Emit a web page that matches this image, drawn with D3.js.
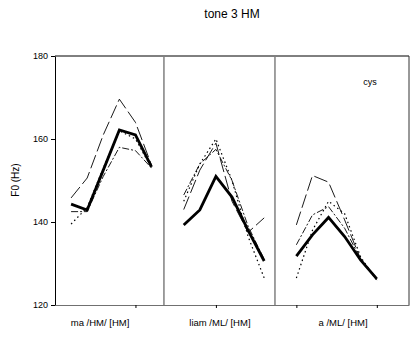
<!DOCTYPE html>
<html>
    <head>
        <meta charset="utf-8">
        <style>
            body { margin: 0; background: #fff; }
            text { font-family: "Liberation Sans", Arial, sans-serif; fill: #000; }
        </style>
    </head>
    <body>
        <svg width="414" height="338"></svg>
        <script src="https://d3js.org/d3.v7.min.js"></script>
        <script>
            // panel labels and the x slots each panel's six samples sit on
            let panels = ["ma /HM/ [HM]", "liam /ML/ [HM]", "a /ML/ [HM]"];
            let slots = [[1, 2, 3, 4, 5, 6], [8, 9, 10, 11, 12, 13], [15, 16, 17, 18, 19, 20]];
            let dividers = [6.77, 13.67];
            let yTicks = [120, 140, 160, 180];
            let xTicks = [5, 10, 15, 20];

            // F0 values (Hz), one row per panel
            let meanF0 = [
                [144.3, 142.9, 152.5, 162.2, 161.0, 153.3],
                [139.3, 142.9, 151.0, 146.0, 138.0, 130.6],
                [131.8, 136.9, 141.1, 136.5, 130.8, 126.3]
            ];
            let seriesA = [
                [145.8, 150.6, 161.0, 169.6, 164.0, 153.7],
                [143.0, 152.5, 159.0, 145.0, 137.5, 141.0],
                [139.3, 151.2, 149.6, 140.5, 131.0, 126.5]
            ];
            let seriesB = [
                [142.5, 142.5, 151.0, 158.0, 157.2, 153.0],
                [146.5, 154.0, 157.5, 150.0, 139.0, 131.0],
                [134.5, 141.7, 143.7, 138.5, 131.0, 126.0]
            ];
            let seriesC = [
                [139.5, 143.5, 153.0, 162.0, 160.0, 153.0],
                [145.0, 154.0, 160.0, 150.0, 136.5, 126.5],
                [126.5, 138.0, 145.0, 142.0, 131.5, 126.0]
            ];

            let svg = d3.select("svg");
            let mLeft = 55, mRight = 409, mTop = 56, mBottom = 305;

            let x = d3.scaleLinear().domain([0, 22]).range([mLeft, mRight]);
            let y = d3.scaleLinear().domain([120, 180]).range([mBottom, mTop]);

            // title and corner note
            svg.append("text").attr("x", 232).attr("y", 18)
                .attr("text-anchor", "middle").style("font-size", "12px").text("tone 3 HM");
            svg.append("text").attr("x", 370).attr("y", 85)
                .attr("text-anchor", "middle").style("font-size", "9px").text("cys");

            // frame
            svg.append("line").attr("x1", mLeft).attr("x2", mRight).attr("y1", mTop).attr("y2", mTop)
                .attr("stroke", "#000");
            svg.append("line").attr("x1", mRight).attr("x2", mRight).attr("y1", mTop).attr("y2", mBottom)
                .attr("stroke", "#333");

            svg.selectAll(".divider").data(dividers).enter()
                .append("line")
                .attr("x1", d => x(d)).attr("x2", d => x(d))
                .attr("y1", mTop).attr("y2", mBottom)
                .attr("stroke", "#808080").attr("stroke-width", 1.5);

            let xAxis = svg.append("g").attr("transform", `translate(0,${mBottom})`)
                .call(d3.axisBottom(x).tickValues(xTicks).tickSize(3).tickSizeOuter(0).tickFormat(""));
            xAxis.select(".domain").attr("stroke", "#707070").attr("stroke-width", 1.2);

            let yAxis = svg.append("g").attr("transform", `translate(${mLeft},0)`)
                .call(d3.axisLeft(y).tickValues(yTicks).tickSize(4).tickSizeOuter(0).tickPadding(3));
            yAxis.selectAll("text").style("font-size", "9px").style("font-family", "Liberation Sans, Arial, sans-serif");

            svg.append("text")
                .attr("transform", "translate(19,180) rotate(-90)")
                .attr("text-anchor", "middle").style("font-size", "10px").text("F0 (Hz)");

            let labelAt = [2.8, 10.25, 17.9];
            svg.selectAll(".plabel").data(panels).enter()
                .append("text")
                .attr("x", (d, i) => x(labelAt[i])).attr("y", 326)
                .attr("text-anchor", "middle").style("font-size", "9.5px")
                .text(d => d);

            let line = d3.line().x(d => x(d[0])).y(d => y(d[1]));

            function drawSeries(rows, width, dash) {
                rows.forEach(function(vals, p) {
                    svg.append("path")
                        .datum(vals.map((v, k) => [slots[p][k], v]))
                        .attr("d", line)
                        .attr("fill", "none")
                        .attr("stroke", "#000")
                        .attr("stroke-width", width)
                        .attr("stroke-dasharray", dash);
                });
            }

            drawSeries(seriesA, 0.9, "14,4");
            drawSeries(seriesB, 0.9, "7,2,2,2");
            drawSeries(seriesC, 1.2, "1.5,3");
            drawSeries(meanF0, 2.8, null);
        </script>
    </body>
</html>
